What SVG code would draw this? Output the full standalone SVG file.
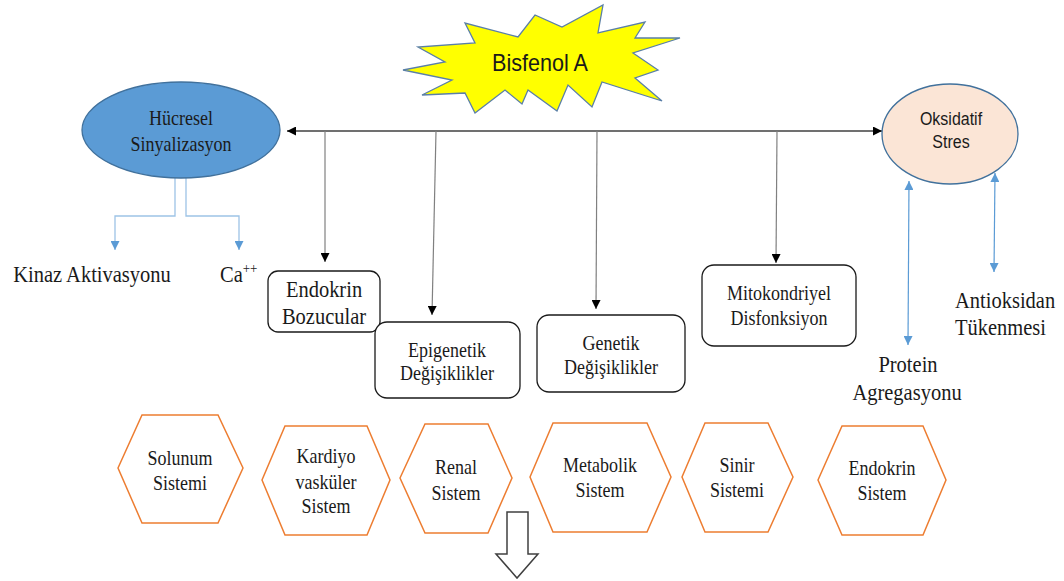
<svg xmlns="http://www.w3.org/2000/svg" width="1064" height="581" viewBox="0 0 1064 581">
<defs>
<style>
.t{font-family:"Liberation Serif","Times New Roman",serif;fill:#1a1a1a;text-anchor:middle}
.ts{font-family:"Liberation Serif","Times New Roman",serif;fill:#1a1a1a;text-anchor:start}
.s{font-family:"Liberation Sans",Arial,sans-serif;fill:#1a1a1a;text-anchor:middle}
.box{fill:#fff;stroke:#1a1a1a;stroke-width:1.3}
.hex{fill:#fff;stroke:#ed7d31;stroke-width:1.5}
.bl{fill:none;stroke:#9dc3e6;stroke-width:1.3}
.bd{fill:none;stroke:#5b9bd5;stroke-width:1.2}
.gr{fill:none;stroke:#808080;stroke-width:1.2}
</style>
<marker id="ab" viewBox="0 0 10 10" refX="10" refY="5" markerWidth="9" markerHeight="9" markerUnits="userSpaceOnUse" orient="auto-start-reverse"><path d="M0,0 L10,5 L0,10 z" fill="#000"/></marker>
<marker id="abl" viewBox="0 0 10 10" refX="10" refY="5" markerWidth="9" markerHeight="9" markerUnits="userSpaceOnUse" orient="auto-start-reverse"><path d="M0,0 L10,5 L0,10 z" fill="#5b9bd5"/></marker>
</defs>
<rect width="1064" height="581" fill="#fff"/>

<g id="connectors">
<line x1="287" y1="131" x2="882" y2="131" stroke="#404040" stroke-width="1.3" marker-start="url(#ab)" marker-end="url(#ab)"/>
<line class="gr" x1="325" y1="131" x2="325" y2="262" marker-end="url(#ab)"/>
<line class="gr" x1="436" y1="131" x2="432" y2="315" marker-end="url(#ab)"/>
<line class="gr" x1="597" y1="131" x2="596" y2="309" marker-end="url(#ab)"/>
<line class="gr" x1="777" y1="131" x2="776" y2="263" marker-end="url(#ab)"/>
<polyline class="bl" points="175,178 175,216 115,216 115,250" marker-end="url(#abl)"/>
<polyline class="bl" points="186,178 186,216 239,216 239,250" marker-end="url(#abl)"/>
<line class="bd" x1="909" y1="181" x2="908" y2="345" marker-start="url(#abl)" marker-end="url(#abl)"/>
<line class="bd" x1="995" y1="173" x2="994" y2="272" marker-start="url(#abl)" marker-end="url(#abl)"/>
</g>

<g id="bisfenol">
<polygon points="403,70 445,62 418,47 475,43 465,23 518,37 535,15 562,27 603,5 598,33 645,22 635,38 680,38 633,53 658,70 635,78 662,101 602,82 592,107 568,85 557,111 528,90 522,104 505,90 475,113 465,93 422,95 452,80" fill="#ffff00" stroke="#5a7fa8" stroke-width="1.3" stroke-linejoin="miter"/>
<text class="s" x="540" y="71" font-size="24" textLength="96" lengthAdjust="spacingAndGlyphs">Bisfenol A</text>
</g>

<g id="hucresel">
<ellipse cx="181" cy="130" rx="99" ry="48" fill="#5b9bd5" stroke="#41719c" stroke-width="1.3"/>
<text class="t" transform="translate(181 125) scale(1 1.17)" font-size="18">Hücresel</text>
<text class="t" transform="translate(181 151) scale(1 1.17)" font-size="18">Sinyalizasyon</text>
</g>

<g id="oksidatif">
<ellipse cx="950" cy="134" rx="68" ry="50" fill="#fbe5d6" stroke="#41719c" stroke-width="1.3"/>
<text class="s" transform="translate(951 125) scale(1 1.12)" font-size="16">Oksidatif</text>
<text class="s" transform="translate(951 148) scale(1 1.12)" font-size="16">Stres</text>
</g>

<g id="kinaz"><text class="t" transform="translate(92 282) scale(1 1.15)" font-size="20.5">Kinaz Aktivasyonu</text></g>
<g id="ca"><text class="ts" transform="translate(220 282) scale(1 1.15)" font-size="20.5">Ca<tspan font-size="13" dy="-8">++</tspan></text></g>

<g id="endokrinbozucular">
<rect class="box" x="268" y="271" width="112" height="61" rx="10"/>
<text class="t" transform="translate(324 297) scale(1 1.15)" font-size="20.5">Endokrin</text>
<text class="t" transform="translate(324 324) scale(1 1.15)" font-size="20.5">Bozucular</text>
</g>

<g id="epigenetik">
<rect class="box" x="375" y="322" width="145" height="76" rx="12"/>
<text class="t" transform="translate(447 357) scale(1 1.17)" font-size="18">Epigenetik</text>
<text class="t" transform="translate(447 380) scale(1 1.17)" font-size="18">Değişiklikler</text>
</g>

<g id="genetik">
<rect class="box" x="537" y="315" width="148" height="77" rx="12"/>
<text class="t" transform="translate(611 350) scale(1 1.17)" font-size="18">Genetik</text>
<text class="t" transform="translate(611 374) scale(1 1.17)" font-size="18">Değişiklikler</text>
</g>

<g id="mitokondriyel">
<rect class="box" x="702" y="265" width="154" height="81" rx="12"/>
<text class="t" transform="translate(779 300) scale(1 1.17)" font-size="18">Mitokondriyel</text>
<text class="t" transform="translate(779 325) scale(1 1.17)" font-size="18">Disfonksiyon</text>
</g>

<g id="protein">
<text class="t" transform="translate(908 372) scale(1 1.15)" font-size="20.5">Protein</text>
<text class="t" transform="translate(907 400) scale(1 1.15)" font-size="20.5">Agregasyonu</text>
</g>

<g id="antioksidan">
<text class="ts" transform="translate(955 308) scale(1 1.15)" font-size="20.5">Antioksidan</text>
<text class="ts" transform="translate(955 335) scale(1 1.15)" font-size="20.5">Tükenmesi</text>
</g>

<g id="solunum">
<polygon class="hex" points="118,468 142,415 218,415 243,468 218,523 142,523"/>
<text class="t" transform="translate(180 465) scale(1 1.17)" font-size="18">Solunum</text>
<text class="t" transform="translate(180 490) scale(1 1.17)" font-size="18">Sistemi</text>
</g>
<g id="kardiyo">
<polygon class="hex" points="262,480 285,426 367,426 390,480 367,535 285,535"/>
<text class="t" transform="translate(326 463) scale(1 1.17)" font-size="18">Kardiyo</text>
<text class="t" transform="translate(326 489) scale(1 1.17)" font-size="18">vasküler</text>
<text class="t" transform="translate(326 513) scale(1 1.17)" font-size="18">Sistem</text>
</g>
<g id="renal">
<polygon class="hex" points="400,478 425,424 488,424 512,478 488,533 425,533"/>
<text class="t" transform="translate(456 474) scale(1 1.17)" font-size="18">Renal</text>
<text class="t" transform="translate(456 500) scale(1 1.17)" font-size="18">Sistem</text>
</g>
<g id="metabolik">
<polygon class="hex" points="530,477 553,423 647,423 671,477 647,532 553,532"/>
<text class="t" transform="translate(600 472) scale(1 1.17)" font-size="18">Metabolik</text>
<text class="t" transform="translate(600 497) scale(1 1.17)" font-size="18">Sistem</text>
</g>
<g id="sinir">
<polygon class="hex" points="682,477 705,423 768,423 793,477 768,532 705,532"/>
<text class="t" transform="translate(737 472) scale(1 1.17)" font-size="18">Sinir</text>
<text class="t" transform="translate(737 497) scale(1 1.17)" font-size="18">Sistemi</text>
</g>
<g id="endokrinsistem">
<polygon class="hex" points="818,480 842,426 923,426 946,480 923,535 842,535"/>
<text class="t" transform="translate(882 475) scale(1 1.17)" font-size="18">Endokrin</text>
<text class="t" transform="translate(882 500) scale(1 1.17)" font-size="18">Sistem</text>
</g>

<g id="downarrow">
<polygon points="507,512 528,512 528,554 538,554 517,578 496,554 507,554" fill="#fff" stroke="#404040" stroke-width="1.5"/>
</g>
</svg>
